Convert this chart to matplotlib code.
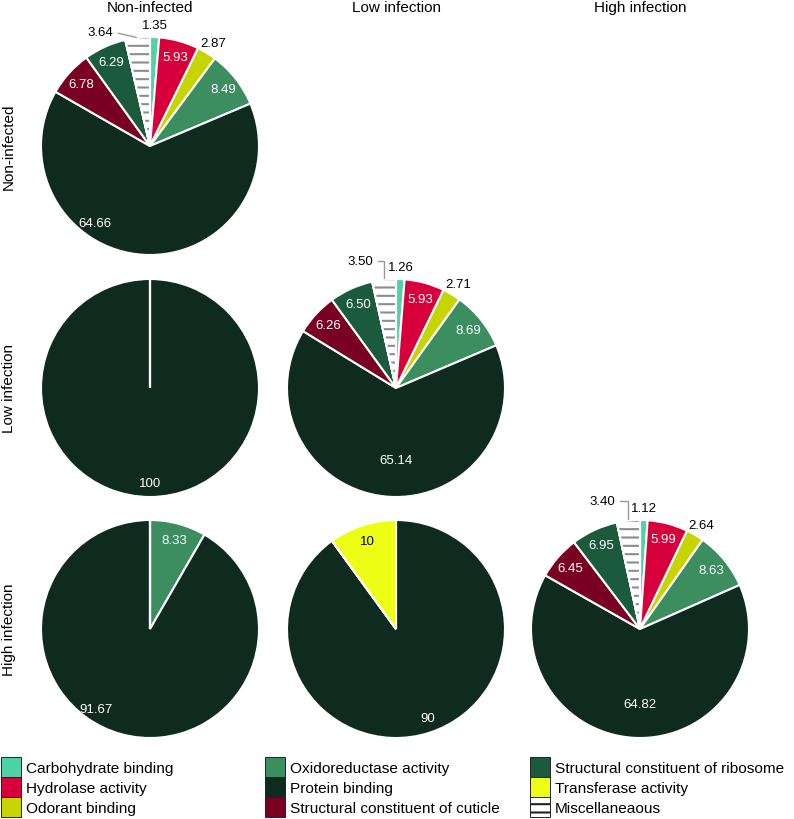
import matplotlib
matplotlib.use("Agg")
import matplotlib.pyplot as plt
import numpy as np
from matplotlib.patches import Wedge, Patch

plt.rcParams['font.family'] = ['Liberation Sans', 'DejaVu Sans']
plt.rcParams['hatch.linewidth'] = 1.5

# categories in clockwise order starting at 12 o'clock
categories = ['Carbohydrate binding', 'Hydrolase activity', 'Odorant binding',
              'Oxidoreductase activity', 'Protein binding', 'Structural constituent of cuticle',
              'Structural constituent of ribosome', 'Transferase activity', 'Miscellaneaous']
colors = ['#4fd3a6', '#d8003c', '#c6d400', '#3c8d60', '#0f2b20', '#7a0023',
          '#1b5a3d', '#ecff14', 'white']

groups = ['Non-infected', 'Low infection', 'High infection']

non_non = [1.35, 5.93, 2.87, 8.49, 64.66, 6.78, 6.29, 0, 3.64]
low_non = [0, 0, 0, 0, 100, 0, 0, 0, 0]
low_low = [1.26, 5.93, 2.71, 8.69, 65.14, 6.26, 6.50, 0, 3.50]
high_non = [0, 0, 0, 8.33, 91.67, 0, 0, 0, 0]
high_low = [0, 0, 0, 0, 90, 0, 0, 10, 0]
high_high = [1.12, 5.99, 2.64, 8.63, 64.82, 6.45, 6.95, 0, 3.40]

cells = {(0, 0): non_non, (1, 0): low_non, (1, 1): low_low,
         (2, 0): high_non, (2, 1): high_low, (2, 2): high_high}

# layout (pixels)
W, H = 794, 820
col_x = [150, 396, 640]
row_y = [147, 389, 630]
R = 109
box = 125
# where the big "protein binding" label sits, offset from pie centre
big_label = {(0, 0): (-55, -77), (1, 0): (0, -95), (1, 1): (0, -72),
             (2, 0): (-54, -80), (2, 1): (32, -89), (2, 2): (0, -75)}
# misc label offset and leader style
misc_label = {(0, 0): ((-50, 114), 'arc3'),
              (1, 1): ((-36, 127), 'angle,angleA=0,angleB=90,rad=0'),
              (2, 2): ((-38, 128), 'angle,angleA=0,angleB=90,rad=0')}


def fmt(v):
    return '%d' % v if float(v).is_integer() else '%.2f' % v


fig = plt.figure(figsize=(W / 100, H / 100), dpi=100)

for (r, c), vals in cells.items():
    cx, cy = col_x[c], row_y[r]
    ax = fig.add_axes([(cx - box) / W, 1 - (cy + box) / H, 2 * box / W, 2 * box / H])
    wedges, _ = ax.pie(vals, colors=colors, startangle=90, counterclock=False, radius=R,
                       wedgeprops=dict(edgecolor='white', linewidth=1.5))
    ax.set_xlim(-box, box)
    ax.set_ylim(-box, box)
    ax.axis('off')

    for k, (w, v) in enumerate(zip(wedges, vals)):
        if v == 0:
            continue
        mid = np.deg2rad((w.theta1 + w.theta2) / 2)
        if categories[k] == 'Miscellaneaous':
            hw = Wedge(w.center, w.r, w.theta1, w.theta2, fill=False, hatch='--',
                       edgecolor='#8c8c8c', lw=0, zorder=w.zorder + 0.1)
            ax.add_patch(hw)
            ax.add_patch(Wedge(w.center, w.r, w.theta1, w.theta2, fill=False,
                               edgecolor='white', lw=1.5, zorder=w.zorder + 0.2))
            (tx, ty), cs = misc_label[(r, c)]
            ax.annotate(fmt(v), xy=(R * np.cos(mid), R * np.sin(mid)), xytext=(tx, ty),
                        ha='center', va='center', fontsize=9.5, color='black',
                        arrowprops=dict(arrowstyle='-', color='#999999', lw=1,
                                        shrinkA=2, shrinkB=1, relpos=(1, 0.5),
                                        connectionstyle=cs))
        elif categories[k] == 'Protein binding':
            dx, dy = big_label[(r, c)]
            ax.text(dx, dy, fmt(v), ha='center', va='center', fontsize=9.5, color='white')
        elif v < 5:
            ax.text(1.11 * R * np.cos(mid), 1.11 * R * np.sin(mid), fmt(v),
                    ha='center', va='center', fontsize=9.5, color='black')
        else:
            tc = 'black' if categories[k] == 'Transferase activity' else 'white'
            ax.text(0.85 * R * np.cos(mid), 0.85 * R * np.sin(mid), fmt(v),
                    ha='center', va='center', fontsize=9.5, color=tc)

for c, g in enumerate(groups):
    fig.text(col_x[c] / W, 1 - 12 / H, g, ha='center', va='baseline', fontsize=11)
for r, g in enumerate(groups):
    fig.text(9 / W, 1 - row_y[r] / H, g, ha='center', va='center', rotation=90, fontsize=11)

# legend: three columns of three
leg_x = [1, 265, 530]
for j in range(3):
    idx = range(3 * j, 3 * j + 3)
    handles = [Patch(facecolor=colors[k], edgecolor='#222222', lw=0.7,
                     hatch='--' if categories[k] == 'Miscellaneaous' else None) for k in idx]
    fig.legend(handles, [categories[k] for k in idx], loc='upper left',
               bbox_to_anchor=(leg_x[j] / W, 1 - 758 / H), frameon=False,
               borderpad=0, borderaxespad=0, handlelength=1.3, handleheight=1.62,
               handletextpad=0.33, labelspacing=0.0, fontsize=11.1)

fig.savefig('out.png', dpi=100)
